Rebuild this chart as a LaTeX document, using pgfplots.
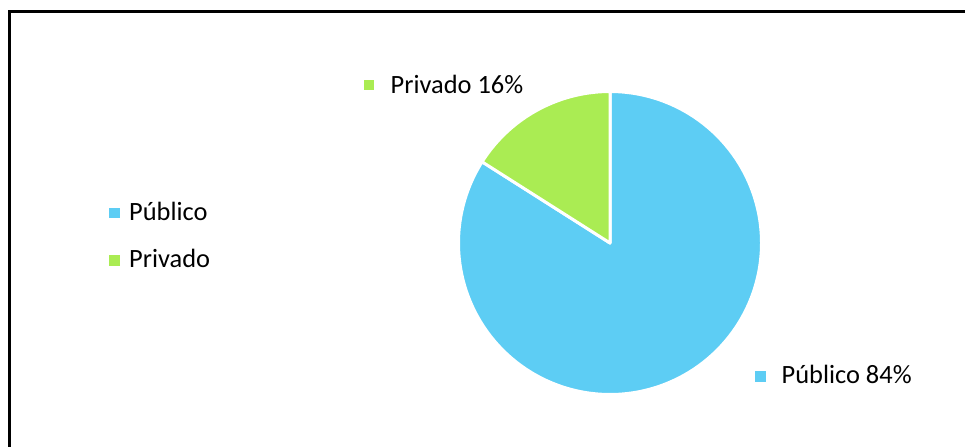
\documentclass[border=0pt]{standalone}
\usepackage{pgfplots}
\pgfplotsset{compat=1.18}
\usepackage{fontspec}
\setmainfont{Carlito}

\definecolor{pubblue}{HTML}{5DCDF4}
\definecolor{privgreen}{HTML}{AAEC53}

% shares in percent
\def\publico{84}
\def\privado{16}

\tikzset{lbl/.style={font=\fontsize{26.5}{32}\selectfont, inner sep=0pt, anchor=base west},
         key/.style={inner sep=0pt, minimum size=10.5bp}}

\begin{document}
\begin{tikzpicture}
\useasboundingbox (0,0) rectangle (965bp,447bp);
\begin{axis}[
  at={(0,0)}, anchor=south west,
  scale only axis, width=965bp, height=447bp,
  xmin=0, xmax=965, ymin=0, ymax=447, y dir=reverse,
  axis lines=none, clip=false,
]
% pie: Privado starts at 12 o'clock, counter-clockwise
\addplot[fill=pubblue, draw=white, line width=3bp, line join=round,
  variable=\t, domain={90+3.6*\privado}:450, samples=240]
  ({610+151.5*cos(t)}, {243-151.5*sin(t)}) -- (axis cs:610,243) -- cycle;
\addplot[fill=privgreen, draw=white, line width=3bp, line join=round,
  variable=\t, domain=90:{90+3.6*\privado}, samples=60]
  ({610+151.5*cos(t)}, {243-151.5*sin(t)}) -- (axis cs:610,243) -- cycle;

% data labels
\node[key, fill=privgreen] at (axis cs:369,85) {};
\node[lbl] at (axis cs:390.5,93.3) {Privado \privado\%};
\node[key, fill=pubblue] at (axis cs:760.5,376.3) {};
\node[lbl] at (axis cs:781.5,383.3) {Público \publico\%};

% legend
\node[key, fill=pubblue] at (axis cs:114.7,212.8) {};
\node[lbl] at (axis cs:129,220.7) {Público};
\node[key, fill=privgreen] at (axis cs:114.7,260.5) {};
\node[lbl] at (axis cs:129,267.3) {Privado};

% chart frame
\draw[black, line width=3bp] (axis cs:9.5,447) -- (axis cs:9.5,12) -- (axis cs:965,12);
\end{axis}
\end{tikzpicture}
\end{document}
